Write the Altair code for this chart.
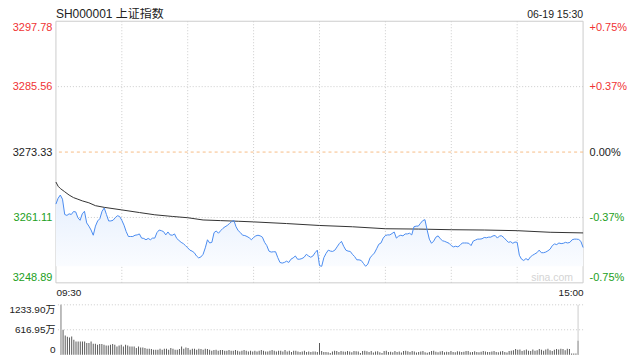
import altair as alt
import pandas as pd

# ---------------- data ----------------
title_text = "SH000001 上证指数"
date_text = "06-19 15:30"
watermark_text = "sina.com"

prev_close = 3273.33
price_ticks = [3248.89, 3261.11, 3273.33, 3285.56, 3297.78]
vol_ticks = [0, 616.95, 1233.90]
time_ticks = [0, 240]
time_labels = ["09:30", "15:00"]
grid_minutes = [30, 60, 90, 120, 150, 180, 210]

prices = [
    3263.61, 3264.70, 3265.30, 3264.52, 3261.67, 3261.49, 3261.79, 3261.67, 3262.21, 3262.15,
    3261.06, 3260.58, 3261.79, 3262.27, 3260.09, 3259.49, 3258.76, 3257.79, 3259.49, 3260.46,
    3260.88, 3262.27, 3262.88, 3261.67, 3260.46, 3260.46, 3260.58, 3261.06, 3261.43, 3261.30,
    3260.58, 3259.67, 3258.46, 3257.55, 3257.55, 3257.55, 3257.79, 3257.85, 3258.03, 3257.25,
    3257.19, 3256.94, 3257.19, 3256.94, 3257.25, 3257.25, 3258.28, 3258.76, 3258.64, 3258.46,
    3257.85, 3258.40, 3257.85, 3257.79, 3258.03, 3257.19, 3256.82, 3256.46, 3256.22, 3255.85,
    3255.43, 3255.00, 3254.82, 3254.52, 3253.91, 3253.55, 3253.73, 3254.22, 3255.43, 3256.94,
    3256.34, 3256.46, 3258.28, 3258.58, 3258.16, 3258.64, 3259.06, 3259.37, 3259.61, 3259.97,
    3260.34, 3260.58, 3259.37, 3258.64, 3258.28, 3257.79, 3257.73, 3257.55, 3257.31, 3256.94,
    3257.37, 3257.67, 3257.79, 3257.67, 3257.43, 3256.46, 3255.85, 3254.82, 3254.64, 3254.70,
    3254.70, 3253.61, 3252.70, 3252.58, 3252.70, 3252.94, 3252.70, 3253.31, 3253.55, 3253.91,
    3253.31, 3253.31, 3253.43, 3253.67, 3254.22, 3253.91, 3253.67, 3253.91, 3254.52, 3255.00,
    3252.10,
    3251.98, 3253.61, 3254.40, 3255.00, 3254.82, 3254.76, 3255.00, 3255.61, 3256.22, 3256.64,
    3255.73, 3255.00, 3254.82, 3254.76, 3254.22, 3253.79, 3253.19, 3253.19, 3253.07, 3252.52,
    3251.98, 3252.40, 3253.55, 3254.04, 3254.46, 3255.25, 3256.10, 3256.34, 3257.25, 3257.73,
    3257.85, 3257.85, 3258.10, 3258.40, 3257.25, 3257.61, 3257.79, 3257.67, 3258.03, 3258.03,
    3258.16, 3257.85, 3259.37, 3259.49, 3259.49, 3260.03, 3260.52, 3260.70, 3258.76, 3257.06,
    3256.28, 3256.70, 3257.43, 3257.67, 3257.13, 3256.76, 3256.64, 3256.46, 3256.28, 3255.85,
    3255.61, 3255.73, 3255.61, 3255.91, 3256.34, 3256.34, 3256.34, 3256.28, 3255.85, 3256.70,
    3256.88, 3257.06, 3257.06, 3257.13, 3257.37, 3257.31, 3257.43, 3257.43, 3257.67, 3257.73,
    3257.25, 3257.67, 3257.67, 3257.31, 3256.88, 3256.46, 3256.58, 3256.28, 3256.52, 3256.46,
    3254.04, 3253.31, 3253.07, 3253.43, 3253.13, 3253.73, 3254.04, 3254.28, 3254.52, 3255.00,
    3254.52, 3254.52, 3254.64, 3254.88, 3255.19, 3255.85, 3256.16, 3256.04, 3256.34, 3256.22,
    3256.28, 3256.46, 3256.34, 3256.46, 3256.94, 3257.06, 3257.06, 3257.00, 3256.64, 3255.49,
]

avg_minutes = [0, 1, 2, 4, 6, 8, 10, 12, 15, 18, 22, 30, 38, 45, 53, 60, 67, 75, 83, 90,
               105, 120, 135, 150, 165, 180, 195, 210, 225, 240]
avg_values = [3267.73, 3266.94, 3266.52, 3265.91, 3265.30, 3264.82, 3264.52, 3264.21, 3263.85,
              3263.31, 3263.00, 3262.52, 3262.03, 3261.61, 3261.30, 3261.06, 3260.64, 3260.52,
              3260.40, 3260.28, 3259.97, 3259.61, 3259.37, 3259.00, 3258.94, 3258.82, 3258.76,
              3258.64, 3258.34, 3258.22]

volumes = [  # 万
    1233.9, 617, 477, 444, 428, 452, 370, 329, 329, 329,
    329, 329, 288, 288, 329, 271, 271, 247, 263, 263,
    247, 230, 230, 247, 263, 247, 206, 230, 247, 206,
    247, 230, 206, 206, 206, 165, 206, 181, 181, 165,
    148, 148, 140, 123, 123, 123, 148, 123, 148, 148,
    123, 165, 148, 123, 123, 140, 206, 148, 181, 165,
    123, 148, 148, 123, 148, 140, 123, 148, 140, 123,
    99, 115, 123, 99, 115, 115, 99, 99, 115, 99,
    99, 115, 99, 82, 99, 115, 99, 82, 99, 82,
    99, 82, 99, 115, 99, 82, 82, 99, 115, 99,
    82, 99, 99, 82, 115, 82, 99, 66, 99, 99,
    82, 66, 82, 99, 66, 82, 66, 82, 82, 66,
    288,
    90, 70, 70, 60, 45, 80, 100, 90, 70, 95,
    80, 75, 95, 80, 60, 95, 85, 80, 45, 90,
    100, 85, 70, 90, 55, 80, 85, 60, 45, 90,
    100, 70, 75, 60, 95, 70, 80, 55, 95, 100,
    85, 70, 90, 80, 55, 70, 80, 90, 60, 50,
    70, 90, 100, 75, 60, 80, 90, 60, 75, 70,
    90, 70, 60, 85, 80, 65, 75, 95, 90, 60,
    70, 85, 70, 60, 75, 95, 80, 70, 65, 80,
    90, 70, 60, 80, 90, 65, 55, 90, 100, 110,
    140, 120, 130, 90, 110, 130, 100, 90, 130, 100,
    110, 140, 120, 100, 130, 150, 110, 90, 120, 140,
    130, 150, 140, 110, 150, 140, 30, 30, 30, 345,
]

# ---------------- styling ----------------
FONT = "Liberation Sans, Arial, 'Noto Sans CJK SC', sans-serif"
RED = "#f03333"
GREEN = "#22a022"
BLUE = "#4a8cf0"
BORDER = "#cccccc"
W, H1, H2 = 528, 262, 50

df = pd.DataFrame({"minute": list(range(len(prices))), "price": prices, "volume": volumes})
avg_df = pd.DataFrame({"minute": avg_minutes, "avg": avg_values})
min_price = min(prices)

xscale = alt.Scale(domain=[time_ticks[0], time_ticks[-1]], nice=False, zero=False)
yscale = alt.Scale(domain=[price_ticks[0], price_ticks[-1]], nice=False, zero=False)
vscale = alt.Scale(domain=[vol_ticks[0], vol_ticks[-1]], nice=False, zero=True)

x_none = alt.X("minute:Q", scale=xscale, axis=None)

time_expr = "datum.value == {} ? '{}' : '{}'".format(time_ticks[0], time_labels[0], time_labels[1])
color_cond = {"condition": [
    {"test": f"datum.value > {prev_close + 0.01}", "value": RED},
    {"test": f"datum.value < {prev_close - 0.01}", "value": GREEN}],
    "value": "#222222"}

left_axis = alt.Axis(
    values=price_ticks, orient="left", ticks=False, domain=False, grid=False,
    labelFlush=True, labelPadding=4, labelFontSize=11, labelFont=FONT, format=".2f",
    labelColor=color_cond, labelOverlap=False, title=None,
)
right_axis = alt.Axis(
    values=price_ticks, orient="right", ticks=False, domain=False, grid=False,
    labelFlush=True, labelPadding=6, labelFontSize=11, labelFont=FONT, labelOverlap=False,
    labelExpr=(f"(datum.value > {prev_close + 0.01} ? '+' : (datum.value < {prev_close - 0.01} ? '-' : ''))"
               f" + format(abs(datum.value - {prev_close}) / {prev_close} * 100, '.2f') + '%'"),
    labelColor=color_cond, title=None,
)
time_axis = alt.Axis(values=time_ticks, labelExpr=time_expr, labelFlush=True, ticks=False,
                     domain=False, grid=False, labelPadding=5, labelFontSize=10, orient="bottom",
                     labelFont=FONT, labelColor="#222222", labelOverlap=False, title=None)

# grid / border helpers
hgrid = alt.Chart(pd.DataFrame({"v": [price_ticks[1], price_ticks[3]]})).mark_rule(
    color=BORDER, strokeDash=[1, 2], strokeWidth=1).encode(y=alt.Y("v:Q", scale=yscale, axis=None))
vborder = alt.Chart(pd.DataFrame({"m": time_ticks})).mark_rule(
    color=BORDER, strokeWidth=1).encode(x=alt.X("m:Q", scale=xscale, axis=time_axis))
vgrid = alt.Chart(pd.DataFrame({"m": grid_minutes})).mark_rule(
    color=BORDER, strokeDash=[1, 2], strokeWidth=1).encode(x=alt.X("m:Q", scale=xscale, axis=None))
pc_rule = alt.Chart(pd.DataFrame({"v": [prev_close]})).mark_rule(
    color="#f7bd86", strokeDash=[3, 3], strokeWidth=1).encode(y=alt.Y("v:Q", scale=yscale, axis=None))
hborder = alt.Chart(pd.DataFrame({"v": [price_ticks[0], price_ticks[-1]]})).mark_rule(
    color=BORDER, strokeWidth=1).encode(y=alt.Y("v:Q", scale=yscale, axis=None))

area = alt.Chart(df).mark_area(
    line=False,
    color=alt.Gradient(gradient="linear",
                       stops=[alt.GradientStop(color="#e6effd", offset=0),
                              alt.GradientStop(color="#fafcff", offset=1)],
                       x1=0, x2=0, y1=0, y2=1),
).encode(x=x_none, y=alt.Y("price:Q", scale=yscale, axis=None), y2=alt.datum(min_price))

avg_line = alt.Chart(avg_df).mark_line(color="#333333", strokeWidth=1).encode(
    x=x_none, y=alt.Y("avg:Q", scale=yscale, axis=right_axis))

price_line = alt.Chart(df).mark_line(color=BLUE, strokeWidth=1).encode(
    x=x_none, y=alt.Y("price:Q", scale=yscale, axis=left_axis))

title_mark = alt.Chart(pd.DataFrame({"t": [title_text]})).mark_text(
    align="left", baseline="alphabetic", fontSize=12, font=FONT, color="#222222").encode(
    x=alt.value(0), y=alt.value(-3), text="t:N")
date_mark = alt.Chart(pd.DataFrame({"t": [date_text]})).mark_text(
    align="right", baseline="alphabetic", fontSize=10.5, font=FONT, color="#222222").encode(
    x=alt.value(W), y=alt.value(-3), text="t:N")
wm_mark = alt.Chart(pd.DataFrame({"t": [watermark_text]})).mark_text(
    align="right", baseline="alphabetic", fontSize=10.5, font=FONT, color="#d4d4d4").encode(
    x=alt.value(W - 10), y=alt.value(H1 - 2), text="t:N")

top = alt.layer(
    vborder, hgrid, vgrid, pc_rule, area, wm_mark, avg_line, price_line, hborder,
    title_mark, date_mark,
).resolve_scale(y="shared", x="shared").resolve_axis(y="independent", x="independent").properties(
    width=W, height=H1)

# volume panel
vol_axis = alt.Axis(values=vol_ticks, ticks=False, domain=False, grid=False, orient="left",
                    labelFlush=True, labelPadding=1, labelFontSize=10, labelFont=FONT,
                    labelColor="#222222", title=None, labelOverlap=False,
                    labelExpr="datum.value == 0 ? '0' : format(datum.value, '.2f') + '万'")
vol_bars = alt.Chart(df).mark_bar(color="#5a5a5a", size=1).encode(
    x=x_none, y=alt.Y("volume:Q", scale=vscale, axis=vol_axis))
vol_grid = alt.Chart(pd.DataFrame({"v": vol_ticks[1:]})).mark_rule(
    color=BORDER, strokeDash=[1, 2], strokeWidth=1).encode(y=alt.Y("v:Q", scale=vscale, axis=None))
vol_border = alt.Chart(pd.DataFrame({"m": time_ticks})).mark_rule(
    color=BORDER, strokeWidth=1).encode(x=alt.X("m:Q", scale=xscale, axis=None))

bottom = alt.layer(vol_bars, vol_grid, vol_border).resolve_scale(y="shared").resolve_axis(
    y="independent").properties(width=W, height=H2)

chart = alt.vconcat(top, bottom, spacing=22, bounds="flush").resolve_scale(
    x="independent", y="independent").resolve_axis(x="independent", y="independent").properties(
    padding={"left": 0, "top": 0, "right": 5, "bottom": 0}
).configure_view(strokeOpacity=0)

chart.save("out.html", embed_options={"renderer": "svg", "actions": False})
